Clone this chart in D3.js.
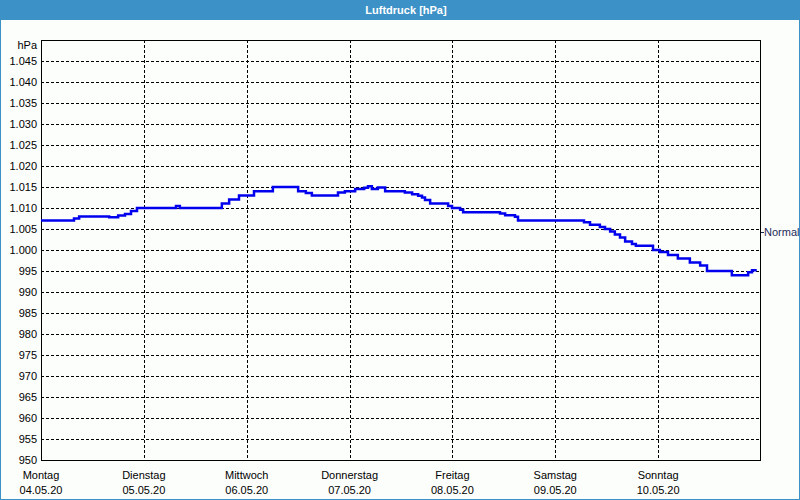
<!DOCTYPE html>
<html><head><meta charset="utf-8">
<script src="https://cdn.jsdelivr.net/npm/d3@7"></script>
<style>
html,body{margin:0;padding:0;background:#fcfefc;}
svg{display:block;}
text{font-family:"Liberation Sans",Arial,sans-serif;font-size:11px;}
</style></head>
<body>
<svg id="c" width="800" height="500"></svg>
<script>
// Data: hours since Mon 04.05.20 00:00, and pressure in hPa (step changes)
const hours = [0, 7.7, 8.9, 15.9, 18, 19.6, 21, 22.4, 31.5, 32.4, 42.2, 43.9, 46.2, 49.7, 54.1,
  60, 61.8, 63.2, 69.3, 70.9, 73.3, 75.4, 76.3, 77.2, 78.6, 80.3, 84.9, 86.6, 88, 88.9, 89.6,
  90.8, 95, 95.9, 97.8, 98.5, 107.1, 108.3, 110.6, 111.3, 126.7, 128.1, 130.4, 131.6, 132.8,
  133.9, 135.1, 136.3, 137.9, 138.8, 142.8, 144.4, 146.3, 148.6, 151.4, 153.8, 155.4, 161.2,
  165, 165.9, 167];
const pressure = [1007, 1007.5, 1008, 1007.8, 1008.2, 1008.6, 1009.3, 1010, 1010.5, 1010, 1011.1, 1012, 1013, 1014, 1015,
  1014, 1013.6, 1013, 1013.7, 1014, 1014.5, 1014.8, 1015.2, 1014.5, 1014.9, 1014, 1013.7, 1013.3, 1012.9, 1012.5, 1011.9,
  1011.1, 1010.5, 1010, 1009.6, 1009, 1008.7, 1008.3, 1007.9, 1007, 1006.6, 1006, 1005.5, 1005, 1004.4,
  1003.7, 1003, 1002, 1001.4, 1001, 1000, 999.5, 998.8, 998, 997, 996.3, 995, 994,
  994.7, 995.2, 995.2];
const yTicks = [950, 955, 960, 965, 970, 975, 980, 985, 990, 995, 1000, 1005, 1010, 1015, 1020, 1025, 1030, 1035, 1040, 1045];
const dayNames = ["Montag", "Dienstag", "Mittwoch", "Donnerstag", "Freitag", "Samstag", "Sonntag"];
const dayDates = ["04.05.20", "05.05.20", "06.05.20", "07.05.20", "08.05.20", "09.05.20", "10.05.20"];
const dayHours = [0, 24, 48, 72, 96, 120, 144];
const normalValue = 1004.2;
const title = "Luftdruck [hPa]";
const unit = "hPa";

const svg = d3.select("#c");
const L = 41, R = 761, T = 40, B = 460;
const x = d3.scaleLinear().domain([0, 168]).range([L, R]);
const y = d3.scaleLinear().domain([950, 1050]).range([B, T]);
const loc = d3.formatLocale({decimal: ",", thousands: ".", grouping: [3], currency: ["", "€"]});
const fmt = loc.format(",d");

// background & frame
svg.append("rect").attr("x", 0).attr("y", 0).attr("width", 800).attr("height", 500).attr("fill", "#fcfefc");
svg.append("rect").attr("x", 0.5).attr("y", 0.5).attr("width", 799).attr("height", 499)
  .attr("fill", "none").attr("stroke", "#3c91c6").attr("stroke-width", 1);
svg.append("rect").attr("x", 0).attr("y", 0).attr("width", 800).attr("height", 20).attr("fill", "#3c91c6");
svg.append("text").attr("x", 406).attr("y", 14).attr("text-anchor", "middle")
  .attr("fill", "#fff").attr("font-weight", "bold").text(title);

// grid
const g = svg.append("g");
g.selectAll("line.h").data(yTicks.filter(v => v > 950)).join("line")
  .attr("x1", L).attr("x2", R)
  .attr("y1", d => Math.round(y(d)) + 0.5).attr("y2", d => Math.round(y(d)) + 0.5)
  .attr("stroke", "#000").attr("stroke-dasharray", "3,2");
g.selectAll("line.v").data(dayHours.filter(h => h > 0)).join("line")
  .attr("y1", T).attr("y2", B)
  .attr("x1", d => Math.round(x(d)) + 0.5).attr("x2", d => Math.round(x(d)) + 0.5)
  .attr("stroke", "#000").attr("stroke-dasharray", "3,2");

// axes frame
svg.append("rect").attr("x", L + 0.5).attr("y", T + 0.5).attr("width", R - L - 1).attr("height", B - T)
  .attr("fill", "none").attr("stroke", "#000").attr("stroke-width", 1);

// y labels
svg.selectAll("text.yl").data(yTicks).join("text")
  .attr("x", 37).attr("y", d => y(d) + 4).attr("text-anchor", "end").attr("fill", "#000")
  .text(d => fmt(d));
svg.append("text").attr("x", 37).attr("y", 49).attr("text-anchor", "end").attr("fill", "#000").text(unit);

// x labels
const xl = svg.selectAll("g.xl").data(dayHours).join("g");
xl.append("text").attr("x", d => x(d)).attr("y", 479).attr("text-anchor", "middle").attr("fill", "#000")
  .text((d, i) => dayNames[i]);
xl.append("text").attr("x", d => x(d)).attr("y", 494).attr("text-anchor", "middle").attr("fill", "#000")
  .text((d, i) => dayDates[i]);

// normal marker
svg.append("line").attr("x1", R).attr("x2", R + 3)
  .attr("y1", Math.round(y(normalValue)) + 0.5).attr("y2", Math.round(y(normalValue)) + 0.5)
  .attr("stroke", "#1c2a5a");
svg.append("text").attr("x", R + 3).attr("y", y(normalValue) + 4).attr("fill", "#1c2a5a").text("Normal");

// line
const pts = hours.map((h, i) => [h, pressure[i]]);
svg.append("path").datum(pts)
  .attr("d", d3.line().x(d => x(d[0])).y(d => y(d[1])).curve(d3.curveStepAfter))
  .attr("fill", "none").attr("stroke", "#0000ee").attr("stroke-width", 2.5);
</script>
</body></html>
